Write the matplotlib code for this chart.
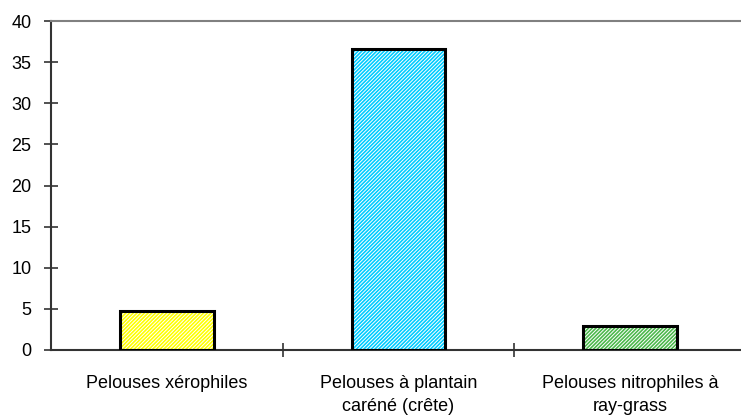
import matplotlib
matplotlib.use("Agg")
import matplotlib.pyplot as plt
import numpy as np

categories = ["Pelouses xérophiles", "Pelouses à plantain\ncaréné (crête)", "Pelouses nitrophiles à\nray-grass"]
values = [4.7, 36.6, 2.9]
colors = ["#FFFF00", "#00CCFF", "#4CB84C"]

plt.rcParams['font.family'] = ['Liberation Sans', 'DejaVu Sans']
plt.rcParams['hatch.linewidth'] = 0.7

fig = plt.figure(figsize=(7.41, 4.18), dpi=100)
ax = fig.add_axes([51 / 741, 1 - 350 / 418, 695 / 741, 329 / 418])

x = np.arange(len(categories))
width = 0.405
# fill with white diagonal hatch, then black outline on top
ax.bar(x, values, width, color=colors, hatch="/////////", edgecolor="white", linewidth=0, zorder=2)
ax.bar(x, values, width, fill=False, edgecolor="black", linewidth=2.2, zorder=3)

ax.set_xlim(-0.5, 2.5)
ax.set_ylim(0, 40)
ax.set_yticks(np.arange(0, 41, 5))
ax.set_xticks([0.5, 1.5])
ax.set_xticklabels([])
ax.set_xticks(x, minor=True)
ax.set_xticklabels(categories, minor=True, fontsize=13, linespacing=1.45)
ax.tick_params(axis="x", which="minor", length=0, pad=18)
ax.tick_params(axis="x", which="major", direction="inout", length=10, width=1.2, color="#333333")
ax.tick_params(axis="y", direction="inout", length=10, width=1.2, color="#333333", labelsize=13, pad=9)

ax.spines["right"].set_visible(False)
ax.spines["top"].set_color("#808080")
ax.spines["top"].set_linewidth(1.5)
ax.spines["left"].set_color("#333333")
ax.spines["left"].set_linewidth(1.5)
ax.spines["bottom"].set_color("#333333")
ax.spines["bottom"].set_linewidth(1.5)

fig.savefig("out.png", dpi=100)
